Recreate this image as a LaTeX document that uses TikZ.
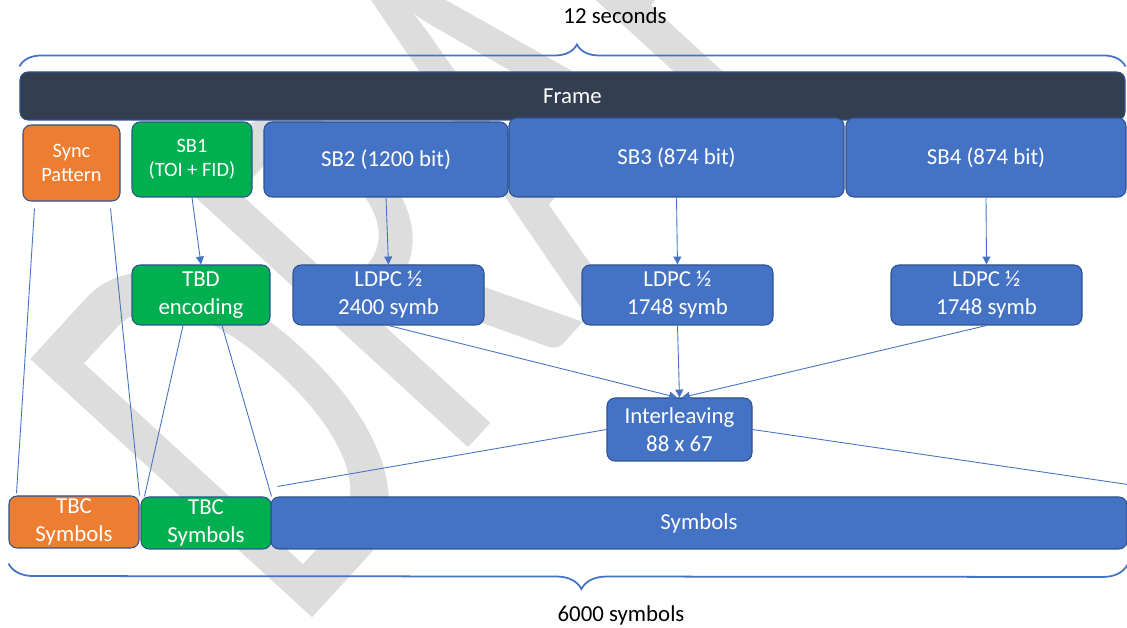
\documentclass[tikz,border=0pt]{standalone}
\usepackage{fontspec}
\setmainfont{Carlito}
\usetikzlibrary{arrows.meta, positioning, calc, decorations.pathreplacing}

\definecolor{blockblue}{HTML}{4472C4}
\definecolor{edgeblue}{HTML}{2F528F}
\definecolor{blockgreen}{HTML}{00B050}
\definecolor{blockorange}{HTML}{ED7D31}
\definecolor{framegray}{HTML}{333F50}
\definecolor{markgray}{HTML}{DDDDDD}

\begin{document}
\begin{tikzpicture}[
  blk/.style = {draw=edgeblue, line width=0.6pt, rounded corners=0.16cm, text=white,
                align=center, inner sep=0pt, font=\fontsize{13}{15.9}\selectfont},
  blueblk/.style = {blk, fill=blockblue},
  greenblk/.style = {blk, fill=blockgreen},
  orangeblk/.style = {blk, fill=blockorange},
  smalltext/.style = {font=\fontsize{11.6}{13.8}\selectfont},
  label/.style = {inner sep=0pt, font=\fontsize{13}{15.9}\selectfont},
  link/.style = {draw=blockblue, line width=0.5pt},
  arrow/.style = {link, -{Triangle[width=4.5pt, length=4.5pt]}},
  spanbrace/.style = {draw=blockblue, line width=1pt, decorate}
]
  \useasboundingbox (0,0) rectangle (22.54,12.56);

  % Watermark
  \begin{scope}
    \clip (0,0) rectangle (22.54,12.56);
    \node[text=markgray, inner sep=0pt, anchor=base west, rotate=47.5, yscale=1.6,
          font=\fontsize{212}{212}\selectfont] (draft) at (5.9,-0.18) {DRAFT};
  \end{scope}

  % Frame
  \node[blk, fill=framegray, minimum width=22.1cm, minimum height=0.96cm] (frame) at (11.45,10.64) {Frame};

  % Sub-blocks
  \node[orangeblk, smalltext, minimum width=1.94cm, minimum height=1.52cm] (sync) at (1.43,9.30) {Sync\\Pattern};
  \node[greenblk, smalltext, minimum width=2.4cm, minimum height=1.5cm] (sb1) at (3.84,9.37) {SB1\\(TOI + FID)};
  \node[blueblk, minimum width=4.88cm, minimum height=1.5cm] (sb2) at (7.72,9.37) {SB2 (1200 bit)};
  \node[blueblk, minimum width=6.7cm, minimum height=1.58cm] (sb3) at (13.53,9.41) {SB3 (874 bit)};
  \node[blueblk, minimum width=5.6cm, minimum height=1.58cm] (sb4) at (19.72,9.41) {SB4 (874 bit)};

  % Encoding
  \node[greenblk, minimum width=2.76cm, minimum height=1.2cm] (tbd) at (4.02,6.66) {TBD\\encoding};
  \node[blueblk, minimum width=3.82cm, minimum height=1.2cm] (ldpc1) at (7.77,6.66) {LDPC ½\\2400 symb};
  \node[blueblk, minimum width=3.82cm, minimum height=1.2cm] (ldpc2) at (13.55,6.66) {LDPC ½\\1748 symb};
  \node[blueblk, minimum width=3.82cm, minimum height=1.2cm] (ldpc3) at (19.73,6.66) {LDPC ½\\1748 symb};

  % Interleaver
  \node[blueblk, minimum width=2.9cm, minimum height=1.26cm] (inter) at (13.59,3.97) {Interleaving\\88 x 67};

  % Symbol row
  \node[orangeblk, minimum width=2.6cm, minimum height=1.04cm] (tbco) at (1.48,2.12) {TBC\\Symbols};
  \node[blueblk, minimum width=17.12cm, minimum height=1.04cm] (syms) at (13.98,2.10) {Symbols};
  \node[greenblk, minimum width=2.6cm, minimum height=1.04cm] (tbcg) at (4.12,2.10) {TBC\\Symbols};

  % Braces
  \draw[spanbrace, decoration={brace, amplitude=0.44cm, aspect=0.504}]
    ([yshift=0.1cm]frame.north west) -- ([yshift=0.1cm]frame.north east);
  \node[label] (secs) at (12.3,12.24) {12 seconds};
  \draw[spanbrace, decoration={brace, mirror, amplitude=0.5cm, aspect=0.512}]
    ([yshift=-0.3cm]tbco.south west) -- ([yshift=-0.3cm]syms.south east);
  \node[label] (nsym) at (12.42,0.26) {6000 symbols};

  % Coding arrows
  \draw[arrow] (sb1.south) -- (tbd.north);
  \draw[arrow] (sb2.south) -- (ldpc1.north);
  \draw[arrow] (sb3.south) -- (ldpc2.north);
  \draw[arrow] (sb4.south) -- (ldpc3.north);
  \draw[arrow] (ldpc1.south) -- ([xshift=-0.05cm]inter.north);
  \draw[arrow] (ldpc2.south) -- (inter.north);
  \draw[arrow] (ldpc3.south) -- ([xshift=0.05cm]inter.north);

  % Mapping lines
  \draw[link] ($(sync.south west)+(0.24,-0.14)$) -- ($(tbco.north west)+(0.16,0.04)$);
  \draw[link] ($(sync.south east)+(-0.2,-0.14)$) -- (tbco.north east);
  \draw[link] ($(tbd.south)+(-0.36,0)$) -- ($(tbcg.north west)+(0.08,0)$);
  \draw[link] ($(tbd.south)+(0.42,0)$) -- (tbcg.north east);
  \draw[link] (inter.west) -- ($(syms.north west)+(0.14,0.2)$);
  \draw[link] (inter.east) -- ($(syms.north east)+(0,0.24)$);

\end{tikzpicture}
\end{document}
